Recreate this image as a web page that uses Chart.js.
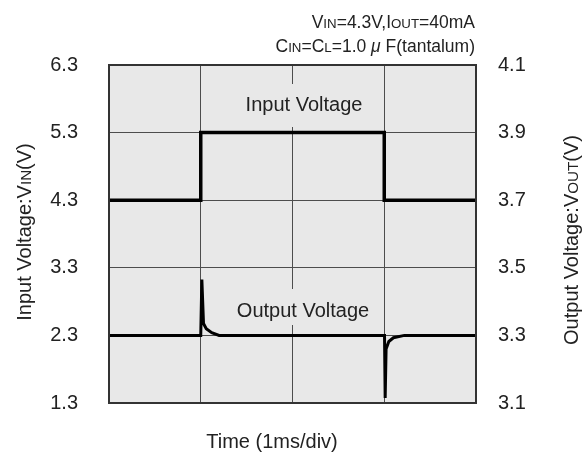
<!DOCTYPE html>
<html>
<head>
<meta charset="utf-8">
<script src="https://cdn.jsdelivr.net/npm/chart.js@4.4.0/dist/chart.umd.min.js"></script>
<style>
  html, body { margin: 0; padding: 0; background: #ffffff; }
  #wrap { width: 585px; height: 452px; }
</style>
</head>
<body>
<div id="wrap"><canvas id="c" width="585" height="452"></canvas></div>
<script>
// ---- data (time in ms, 1 ms/div) ----
const inputTime    = [0, 1.0, 1.0, 3.0, 3.0, 4.0];
const inputVoltage = [4.3, 4.3, 5.3, 5.3, 4.3, 4.3];

const outputTime    = [0, 1.0, 1.012, 1.03, 1.06, 1.12, 1.2, 3.003, 3.01, 3.02, 3.05, 3.1, 3.22, 4.0];
const outputVoltage = [3.3, 3.3, 3.465, 3.335, 3.32, 3.308, 3.3, 3.3, 3.115, 3.26, 3.282, 3.293, 3.3, 3.3];

const leftTicks  = [1.3, 2.3, 3.3, 4.3, 5.3, 6.3];
const rightTicks = [3.1, 3.3, 3.5, 3.7, 3.9, 4.1];
const timeDivs   = [0, 1, 2, 3, 4];

const FONT = '"Liberation Sans", Arial, Helvetica, sans-serif';
const PLOT_BG = '#e8e8e8';

function toPoints(xs, ys) { return xs.map((x, i) => ({ x: x, y: ys[i] })); }

// parts: [text, style]; style 0 normal, 1 small caps-like subscript, 2 italic
function fontFor(style, size) {
  if (style === 1) return (size * 0.76) + 'px ' + FONT;
  if (style === 2) return 'italic ' + size + 'px ' + FONT;
  return size + 'px ' + FONT;
}
function richText(ctx, parts, size, x, y, align) {
  const widths = parts.map(p => { ctx.font = fontFor(p[1], size); return ctx.measureText(p[0]).width; });
  const total = widths.reduce((a, b) => a + b, 0);
  let cx = align === 'right' ? x - total : (align === 'center' ? x - total / 2 : x);
  ctx.textAlign = 'left';
  parts.forEach((p, i) => {
    ctx.font = fontFor(p[1], size);
    ctx.fillText(p[0], cx, y);
    cx += widths[i];
  });
}

const decor = {
  id: 'decor',
  beforeDraw(chart) {
    const { ctx, chartArea: a } = chart;
    ctx.save();
    ctx.fillStyle = PLOT_BG;
    ctx.fillRect(a.left, a.top, a.right - a.left, a.bottom - a.top);
    ctx.restore();
  },
  beforeDatasetsDraw(chart) {
    const { ctx } = chart;
    ctx.save();
    ctx.fillStyle = PLOT_BG;
    ctx.fillRect(244, 84, 120, 43);
    ctx.fillRect(234, 289, 140, 36);
    ctx.fillStyle = '#222';
    ctx.textBaseline = 'alphabetic';
    ctx.font = '20px ' + FONT;
    ctx.textAlign = 'center';
    ctx.fillText('Input Voltage', 304, 111);
    ctx.fillText('Output Voltage', 303, 317);
    ctx.restore();
  },
  afterDraw(chart) {
    const { ctx, chartArea: a } = chart;
    ctx.save();
    ctx.strokeStyle = '#333';
    ctx.lineWidth = 2;
    ctx.strokeRect(a.left, a.top, a.right - a.left, a.bottom - a.top);

    ctx.fillStyle = '#222';
    ctx.textBaseline = 'alphabetic';
    richText(ctx, [['V', 0], ['IN', 1], ['=4.3V,I', 0], ['OUT', 1], ['=40mA', 0]], 17.5, 475, 28, 'right');
    richText(ctx, [['C', 0], ['IN', 1], ['=C', 0], ['L', 1], ['=1.0 ', 0], ['\u03bc', 2], [' F(tantalum)', 0]], 17.5, 475, 52, 'right');

    ctx.font = '20px ' + FONT;
    ctx.textAlign = 'center';
    ctx.fillText('Time (1ms/div)', 272, 448);

    ctx.save();
    ctx.translate(31, 232);
    ctx.rotate(-Math.PI / 2);
    richText(ctx, [['Input Voltage:V', 0], ['IN', 1], ['(V)', 0]], 20, 0, 0, 'center');
    ctx.restore();

    ctx.save();
    ctx.translate(578, 240);
    ctx.rotate(-Math.PI / 2);
    richText(ctx, [['Output Voltage:V', 0], ['OUT', 1], ['(V)', 0]], 20, 0, 0, 'center');
    ctx.restore();

    ctx.restore();
  }
};

new Chart(document.getElementById('c'), {
  type: 'scatter',
  data: {
    datasets: [
      {
        label: 'Input Voltage',
        data: toPoints(inputTime, inputVoltage),
        yAxisID: 'y',
        showLine: true,
        borderColor: '#000',
        borderWidth: 3.5,
        pointRadius: 0,
        tension: 0,
        borderJoinStyle: 'miter'
      },
      {
        label: 'Output Voltage',
        data: toPoints(outputTime, outputVoltage),
        yAxisID: 'y1',
        showLine: true,
        borderColor: '#000',
        borderWidth: 3,
        pointRadius: 0,
        tension: 0
      }
    ]
  },
  options: {
    responsive: false,
    animation: false,
    devicePixelRatio: 1,
    layout: { padding: { top: 65, left: 0, right: 0, bottom: 0 } },
    plugins: { legend: { display: false }, tooltip: { enabled: false }, title: { display: false } },
    scales: {
      x: {
        type: 'linear',
        min: timeDivs[0],
        max: timeDivs[timeDivs.length - 1],
        afterBuildTicks: s => { s.ticks = timeDivs.map(v => ({ value: v })); },
        ticks: { display: false },
        grid: { color: '#4d4d4d', lineWidth: 1, drawTicks: false },
        border: { display: false },
        afterFit: s => { s.height = 49; }
      },
      y: {
        position: 'left',
        min: leftTicks[0],
        max: leftTicks[leftTicks.length - 1],
        afterBuildTicks: s => { s.ticks = leftTicks.map(v => ({ value: v })); },
        ticks: {
          callback: v => Number(v).toFixed(1),
          font: { family: FONT, size: 20 },
          color: '#222',
          padding: 31
        },
        grid: { color: '#4d4d4d', lineWidth: 1, drawTicks: false },
        border: { display: false },
        afterFit: s => { s.width = 109; }
      },
      y1: {
        position: 'right',
        min: rightTicks[0],
        max: rightTicks[rightTicks.length - 1],
        afterBuildTicks: s => { s.ticks = rightTicks.map(v => ({ value: v })); },
        ticks: {
          callback: v => Number(v).toFixed(1),
          font: { family: FONT, size: 20 },
          color: '#222',
          padding: 22
        },
        grid: { display: false, drawTicks: false },
        border: { display: false },
        afterFit: s => { s.width = 109; }
      }
    }
  },
  plugins: [decor]
});
</script>
</body>
</html>
